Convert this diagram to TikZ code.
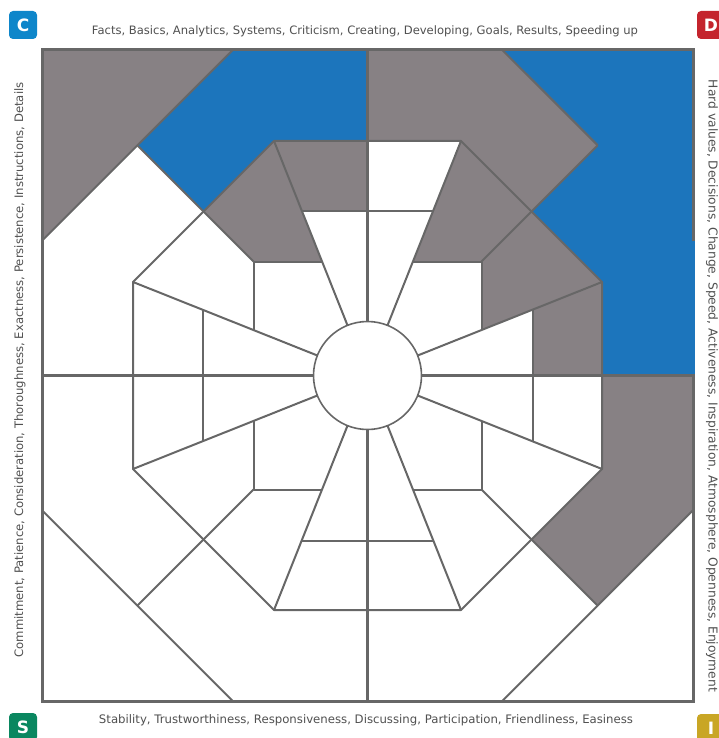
\documentclass[tikz,border=0pt]{standalone}
\usepackage{fontspec}
\setmainfont{DejaVu Sans}
\usepackage{graphicx}
\definecolor{lin}{HTML}{676767}
\definecolor{gfill}{HTML}{878184}
\definecolor{bfill}{HTML}{1C75BC}
\definecolor{txt}{HTML}{505050}
\definecolor{bc}{HTML}{0E86CA}
\definecolor{bd}{HTML}{C4242D}
\definecolor{bs}{HTML}{0A8760}
\definecolor{bi}{HTML}{C9A625}
\tikzset{
  ln/.style={draw=lin,line width=2pt,line join=round},
  ax/.style={draw=lin,line width=3pt},
  gf/.style={fill=gfill},
  bf/.style={fill=bfill},
  lbl/.style={text=txt,inner sep=0pt},
  badge/.style={rounded corners=4pt,minimum size=28pt,inner sep=0pt,text=white,font=\bfseries\fontsize{17}{17}\selectfont}
}
\begin{document}
\begin{tikzpicture}[x=1pt,y=-1pt]
\useasboundingbox (0,0) rectangle (719,738);
\clip (0,0) rectangle (719,738);
\begin{scope}[shift={(367.5,375.5)}]
% ---------- fills ----------
% top-left quadrant
\path[gf] (-325.5,-325.5) -- (-134.8,-325.5) -- (-325.5,-134.8) -- cycle;
\path[bf] (-134.8,-325.5) -- (0,-325.5) -- (0,-234.5) -- (-93.5,-234.5) -- (-164,-164) -- (-230.2,-230.2) -- cycle;
\path[gf] (-93.5,-234.5) -- (-45.5,-114) -- (-114,-114) -- (-164,-164) -- cycle;
\path[gf] (-93.5,-234.5) -- (0,-234.5) -- (0,-165) -- (-65.8,-165) -- cycle;
% top-right quadrant
\path[gf] (0,-325.5) -- (134.8,-325.5) -- (230.2,-230.2) -- (164,-164) -- (93.5,-234.5) -- (0,-234.5) -- cycle;
\path[bf] (134.8,-325.5) -- (325.5,-325.5) -- (325.5,0) -- (234.5,0) -- (234.5,-93.5) -- (164,-164) -- (230.2,-230.2) -- cycle;
\path[gf] (93.5,-234.5) -- (164,-164) -- (114,-114) -- (45.5,-114) -- cycle;
\path[gf] (164,-164) -- (234.5,-93.5) -- (114,-45.5) -- (114,-114) -- cycle;
\path[gf] (234.5,-93.5) -- (234.5,0) -- (165,0) -- (165,-65.8) -- cycle;
% bottom-right quadrant
\path[gf] (234.5,0) -- (325.5,0) -- (325.5,134.8) -- (230.2,230.2) -- (164,164) -- (234.5,93.5) -- cycle;
% ---------- lines ----------
% middle octagon
\draw[ln] (234.5,-93.5) -- (93.5,-234.5) -- (-93.5,-234.5) -- (-234.5,-93.5)
  -- (-234.5,93.5) -- (-93.5,234.5) -- (93.5,234.5) -- (234.5,93.5) -- cycle;
% outer octagon corners
\draw[ln] (-325.5,-134.8) -- (-134.8,-325.5);
\draw[ln] (134.8,-325.5) -- (230.2,-230.2);
\draw[ln] (325.5,134.8) -- (134.8,325.5);
\draw[ln] (-134.8,325.5) -- (-325.5,134.8);
% spokes
\foreach \sx/\sy in {1/1,1/-1,-1/1,-1/-1}{
  \draw[ln] (0,0) -- (\sx*234.5,\sy*93.5);
  \draw[ln] (0,0) -- (\sx*93.5,\sy*234.5);
  % diagonal rays
  \draw[ln] (\sx*114,\sy*114) -- (\sx*230.2,\sy*230.2);
  % inner square corners
  \draw[ln] (\sx*114,\sy*45.5) -- (\sx*114,\sy*114) -- (\sx*45.5,\sy*114);
  % narrow cross segments
  \draw[ln] (\sx*165,0) -- (\sx*165,\sy*65.8);
  \draw[ln] (0,\sy*165) -- (\sx*65.8,\sy*165);
}
% axes
\draw[ax] (-325.5,0) -- (325.5,0);
\draw[ax] (0,-325.5) -- (0,325.5);
% hub
\node[circle,draw=lin,line width=1.6pt,fill=white,minimum size=108pt,inner sep=0pt] (hub) at (0,0) {};
% frame
\draw[draw=lin,line width=3pt] (-325.5,-325.5) rectangle (325.5,325.5);
% blue band laid over the right frame edge
\path[bf] (323.5,-134.8) rectangle (327.2,-1.5);
\end{scope}
% ---------- labels ----------
\node[lbl] (topt) at (365,31) {\resizebox{546pt}{!}{Facts, Basics, Analytics, Systems, Criticism, Creating, Developing, Goals, Results, Speeding up}};
\node[lbl] (bott) at (366,720) {\resizebox{534pt}{!}{Stability, Trustworthiness, Responsiveness, Discussing, Participation, Friendliness, Easiness}};
\node[lbl,rotate=90] (leftt) at (20,370) {\resizebox{575pt}{!}{Commitment, Patience, Consideration, Thoroughness, Exactness, Persistence, Instructions, Details}};
\node[lbl,rotate=-90] (rightt) at (712,386) {\resizebox{612pt}{!}{Hard values, Decisions, Change, Speed, Activeness, Inspiration, Atmosphere, Openness, Enjoyment}};
% ---------- badges ----------
\node[badge,fill=bc] (bC) at (23,25) {C};
\node[badge,fill=bd] (bD) at (711,25) {D};
\node[badge,fill=bs] (bS) at (23,727) {S};
\node[badge,fill=bi] (bI) at (711,728) {I};
\end{tikzpicture}
\end{document}
